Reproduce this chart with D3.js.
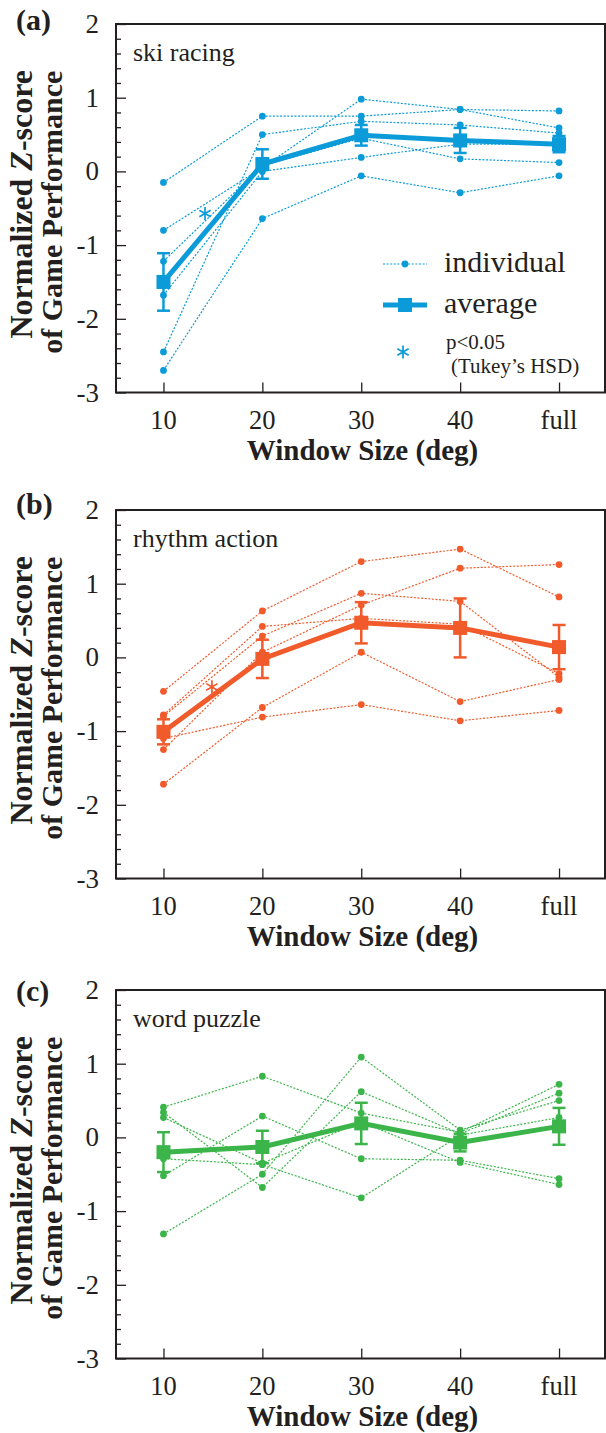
<!DOCTYPE html>
<html><head><meta charset="utf-8">
<script src="https://cdn.jsdelivr.net/npm/d3@7"></script>
<style>html,body{margin:0;padding:0;background:#fff;}</style>
</head><body>
<svg id="chart" width="606" height="1433"></svg>
<script>
// ---------- data ----------
const categories = ["10", "20", "30", "40", "full"];
const yTickValues = [-3, -2, -1, 0, 1, 2];
const panelLabels = ["(a)", "(b)", "(c)"];
const gameTitles = ["ski racing", "rhythm action", "word puzzle"];
const seriesColors = ["#0b9bd8", "#f15a2b", "#3bb54a"];

// individual participants (z-scores at 10, 20, 30, 40, full)
const skiIndividual = [
  [-0.15, 0.75, 0.75, 0.84, 0.82],
  [-2.45, 0.50, 0.68, 0.63, 0.52],
  [-0.80, 0.05, 0.98, 0.84, 0.59],
  [-1.22, 0.08, 0.45, 0.17, 0.12],
  [-1.68, 0.00, 0.19, 0.37, 0.37],
  [-2.70, -0.64, -0.06, -0.29, -0.06]
];
const skiAverage = [-1.50, 0.10, 0.49, 0.42, 0.37];
const skiError = [0.39, 0.20, 0.14, 0.17, 0.11];
const skiSignificance = [{ from: "10", to: "20", frac: 0.42, value: -0.57 }];

const rhythmIndividual = [
  [-0.46, 0.63, 1.30, 1.47, 0.82],
  [-0.78, 0.42, 0.53, 0.45, -0.22],
  [-0.80, 0.29, 0.87, 0.76, -0.27],
  [-1.25, 0.07, 0.71, 1.21, 1.26],
  [-1.72, -0.68, 0.07, -0.60, -0.30],
  [-1.10, -0.81, -0.64, -0.86, -0.72]
];
const rhythmAverage = [-1.01, -0.02, 0.47, 0.40, 0.14];
const rhythmError = [0.17, 0.26, 0.28, 0.40, 0.30];
const rhythmSignificance = [{ from: "10", to: "20", frac: 0.49, value: -0.40 }];

const puzzleIndividual = [
  [0.41, 0.83, 0.33, 0.07, 0.72],
  [0.34, -0.68, 0.62, 0.05, 0.60],
  [0.27, -0.35, 0.21, -0.34, -0.64],
  [-0.29, -0.37, -0.82, 0.03, 0.27],
  [-0.52, 0.29, -0.29, -0.31, -0.56],
  [-1.31, -0.50, 1.09, 0.10, 0.50]
];
const puzzleAverage = [-0.20, -0.13, 0.19, -0.07, 0.15];
const puzzleError = [0.27, 0.22, 0.28, 0.12, 0.25];
const puzzleSignificance = [];

const legendLabels = ["individual", "average", "p<0.05", "(Tukey\u2019s HSD)"];

// ---------- layout ----------
const FONT = "'Liberation Serif','Times New Roman',serif";
const INK = "#231f20";
const plotLeft = 116, plotRight = 605, plotHeight = 368.5;
const panels = [
  { top: 24,  labelY: 30,   individual: skiIndividual, average: skiAverage, error: skiError, sig: skiSignificance, legend: true },
  { top: 510, labelY: 514,  individual: rhythmIndividual, average: rhythmAverage, error: rhythmError, sig: rhythmSignificance, legend: false },
  { top: 990, labelY: 1001, individual: puzzleIndividual, average: puzzleAverage, error: puzzleError, sig: puzzleSignificance, legend: false }
];

const svg = d3.select("#chart");
const x = d3.scalePoint().domain(categories).range([plotLeft + 0.5, plotRight + 1]).padding(0.475);

panels.forEach((p, i) => {
  const color = seriesColors[i];
  const bottom = p.top + plotHeight;
  const y = d3.scaleLinear().domain([-3, 2]).range([bottom, p.top]);
  const g = svg.append("g");

  // frame
  g.append("rect").attr("x", plotLeft).attr("y", p.top)
    .attr("width", plotRight - plotLeft).attr("height", plotHeight)
    .attr("fill", "none").attr("stroke", INK).attr("stroke-width", 2);

  // y axis (inward ticks)
  const yAxis = d3.axisRight(y).tickValues(yTickValues).tickSize(10).tickFormat("");
  const ya = g.append("g").attr("transform", `translate(${plotLeft},0)`).call(yAxis);
  const minor = d3.range(-3, 2.0001, 0.2).filter(v => Math.abs(v - Math.round(v)) > 1e-6);
  const yMinor = d3.axisRight(y).tickValues(minor).tickSize(5).tickFormat("");
  const ym = g.append("g").attr("transform", `translate(${plotLeft},0)`).call(yMinor);
  [ya, ym].forEach(a => { a.select(".domain").remove(); a.selectAll("line").attr("stroke", INK).attr("stroke-width", 1.3); });

  g.selectAll(".ylab").data(yTickValues).join("text")
    .attr("x", 99).attr("y", d => y(d) + 9)
    .attr("text-anchor", "end").attr("font-family", FONT).attr("font-size", 27).attr("fill", INK)
    .text(d => d3.format("d")(d).replace("\u2212", "-"));

  // x axis (inward ticks)
  const xAxis = d3.axisTop(x).tickSize(10).tickFormat("");
  const xa = g.append("g").attr("transform", `translate(0,${bottom})`).call(xAxis);
  xa.select(".domain").remove();
  xa.selectAll("line").attr("stroke", INK).attr("stroke-width", 1.3);

  g.selectAll(".xlab").data(categories).join("text")
    .attr("x", d => x(d)).attr("y", bottom + 36)
    .attr("text-anchor", "middle").attr("font-family", FONT).attr("font-size", 26.5).attr("fill", INK)
    .text(d => d);

  g.append("text").attr("x", (plotLeft + plotRight) / 2 + 2).attr("y", bottom + 67.5)
    .attr("text-anchor", "middle").attr("font-family", FONT).attr("font-size", 29)
    .attr("font-weight", "bold").attr("fill", INK).text("Window Size (deg)");

  // y title
  const cy = (p.top + bottom) / 2;
  const t1 = g.append("text").attr("transform", `translate(32,${cy - 4}) rotate(-90)`)
    .attr("text-anchor", "middle").attr("font-family", FONT).attr("font-size", 32)
    .attr("font-weight", "bold").attr("fill", INK);
  t1.append("tspan").text("Normalized ");
  t1.append("tspan").attr("font-style", "italic").text("Z");
  t1.append("tspan").text("-score");
  g.append("text").attr("transform", `translate(62,${cy + 4}) rotate(-90)`)
    .attr("text-anchor", "middle").attr("font-family", FONT).attr("font-size", 30)
    .attr("font-weight", "bold").attr("fill", INK).text("of Game Performance");

  // panel label & title
  g.append("text").attr("x", 16).attr("y", p.labelY)
    .attr("font-family", FONT).attr("font-size", 30).attr("font-weight", "bold").attr("fill", INK)
    .text(panelLabels[i]);
  g.append("text").attr("x", 133).attr("y", p.top + 37)
    .attr("font-family", FONT).attr("font-size", 26).attr("fill", INK).text(gameTitles[i]);

  // individual lines
  const line = d3.line().x((d, k) => x(categories[k])).y(d => y(d));
  g.selectAll(".ind").data(p.individual).join("path")
    .attr("d", d => line(d)).attr("fill", "none").attr("stroke", color)
    .attr("stroke-width", 1.2).attr("stroke-dasharray", "2,1.6");
  p.individual.forEach(row => {
    g.selectAll(null).data(row).join("circle")
      .attr("cx", (d, k) => x(categories[k])).attr("cy", d => y(d))
      .attr("r", 3.4).attr("fill", color);
  });

  // average line
  g.append("path").attr("d", line(p.average)).attr("fill", "none")
    .attr("stroke", color).attr("stroke-width", 5);

  // error bars
  const eb = g.selectAll(".eb").data(p.average).join("g");
  eb.append("line").attr("x1", (d, k) => x(categories[k])).attr("x2", (d, k) => x(categories[k]))
    .attr("y1", (d, k) => y(d + p.error[k])).attr("y2", (d, k) => y(d - p.error[k]))
    .attr("stroke", color).attr("stroke-width", 2.5);
  [1, -1].forEach(s => {
    eb.append("line").attr("x1", (d, k) => x(categories[k]) - 6.5).attr("x2", (d, k) => x(categories[k]) + 6.5)
      .attr("y1", (d, k) => y(d + s * p.error[k])).attr("y2", (d, k) => y(d + s * p.error[k]))
      .attr("stroke", color).attr("stroke-width", 2.5);
  });

  // average squares
  g.selectAll(".sq").data(p.average).join("rect")
    .attr("x", (d, k) => x(categories[k]) - 7).attr("y", d => y(d) - 7)
    .attr("width", 14).attr("height", 14).attr("fill", color);

  // significance asterisks
  const ast = d3.symbol().type(d3.symbolAsterisk).size(120);
  g.selectAll(".sig").data(p.sig).join("path")
    .attr("transform", d => `translate(${x(d.from) + d.frac * (x(d.to) - x(d.from))},${y(d.value)})`)
    .attr("d", ast).attr("fill", "none").attr("stroke", color).attr("stroke-width", 1.7);

  // legend
  if (p.legend) {
    const lx0 = 383, lx1 = 427, lxm = 405, tx = 444;
    const ly1 = p.top + 240, ly2 = p.top + 281, ly3 = p.top + 325;
    g.append("line").attr("x1", lx0).attr("x2", lx1).attr("y1", ly1).attr("y2", ly1)
      .attr("stroke", color).attr("stroke-width", 1.2).attr("stroke-dasharray", "2,1.6");
    g.append("circle").attr("cx", lxm).attr("cy", ly1).attr("r", 3.4).attr("fill", color);
    g.append("text").attr("x", tx).attr("y", ly1 + 8).attr("font-family", FONT).attr("font-size", 30)
      .attr("fill", INK).text(legendLabels[0]);
    g.append("line").attr("x1", lx0).attr("x2", lx1).attr("y1", ly2).attr("y2", ly2)
      .attr("stroke", color).attr("stroke-width", 5);
    g.append("rect").attr("x", lxm - 7).attr("y", ly2 - 7).attr("width", 14).attr("height", 14).attr("fill", color);
    g.append("text").attr("x", tx).attr("y", ly2 + 8).attr("font-family", FONT).attr("font-size", 30)
      .attr("fill", INK).text(legendLabels[1]);
    g.append("path").attr("transform", `translate(${lxm - 2},${ly3 + 3})`).attr("d", ast)
      .attr("fill", "none").attr("stroke", color).attr("stroke-width", 1.7);
    g.append("text").attr("x", tx + 2).attr("y", ly3).attr("font-family", FONT).attr("font-size", 21)
      .attr("fill", INK).text(legendLabels[2]);
    g.append("text").attr("x", tx + 7).attr("y", ly3 + 24).attr("font-family", FONT).attr("font-size", 21)
      .attr("fill", INK).text(legendLabels[3]);
  }
});
</script>
</body></html>
